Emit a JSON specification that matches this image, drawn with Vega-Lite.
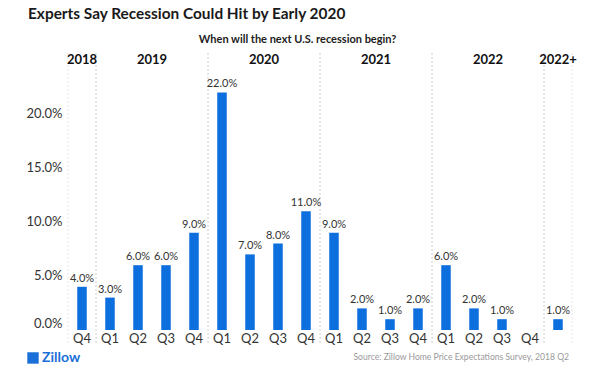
{
  "$schema": "https://vega.github.io/schema/vega-lite/v6.json",
  "width": 504,
  "height": 278,
  "autosize": {"type": "none"},
  "padding": {"left": 68, "top": 52, "right": 44, "bottom": 52},
  "title": {
    "text": "Experts Say Recession Could Hit by Early 2020",
    "anchor": "start",
    "frame": "group",
    "offset": 12,
    "dx": -40,
    "fontSize": 15.4,
    "fontWeight": "bold",
    "color": "#1a1a1a"
  },
  "datasets": {
    "survey": [
      {"period": "2018 Q4", "value": 0.04},
      {"period": "2019 Q1", "value": 0.03},
      {"period": "2019 Q2", "value": 0.06},
      {"period": "2019 Q3", "value": 0.06},
      {"period": "2019 Q4", "value": 0.09},
      {"period": "2020 Q1", "value": 0.22},
      {"period": "2020 Q2", "value": 0.07},
      {"period": "2020 Q3", "value": 0.08},
      {"period": "2020 Q4", "value": 0.11},
      {"period": "2021 Q1", "value": 0.09},
      {"period": "2021 Q2", "value": 0.02},
      {"period": "2021 Q3", "value": 0.01},
      {"period": "2021 Q4", "value": 0.02},
      {"period": "2022 Q1", "value": 0.06},
      {"period": "2022 Q2", "value": 0.02},
      {"period": "2022 Q3", "value": 0.01},
      {"period": "2022 Q4", "value": 0},
      {"period": "2022+", "value": 0.01}
    ],
    "fullYears": [
      {"label": "2019", "period": "2019 Q2"},
      {"label": "2020", "period": "2020 Q2"},
      {"label": "2021", "period": "2021 Q2"},
      {"label": "2022", "period": "2022 Q2"}
    ],
    "singleYears": [
      {"label": "2018", "period": "2018 Q4"},
      {"label": "2022+", "period": "2022+"}
    ],
    "breaks": [
      {"period": "2019 Q1"},
      {"period": "2020 Q1"},
      {"period": "2021 Q1"},
      {"period": "2022 Q1"},
      {"period": "2022+"}
    ]
  },
  "layer": [
    {
      "data": {"values": [{"period": "2018 Q4"}]},
      "mark": {"type": "rule", "color": "#e4e4e4", "strokeDash": [2, 2], "strokeWidth": 1},
      "encoding": {
        "x": {"field": "period", "type": "ordinal", "bandPosition": 0, "title": null},
        "y": {"datum": -0.012, "type": "quantitative"},
        "y2": {"datum": 0.2574}
      }
    },
    {
      "data": {"values": [{"period": "2022+"}]},
      "mark": {"type": "rule", "color": "#e4e4e4", "strokeDash": [2, 2], "strokeWidth": 1},
      "encoding": {
        "x": {"field": "period", "type": "ordinal", "bandPosition": 1, "title": null},
        "y": {"datum": -0.012, "type": "quantitative"},
        "y2": {"datum": 0.2574}
      }
    },
    {
      "data": {"name": "breaks"},
      "mark": {"type": "rule", "color": "#cccccc", "strokeDash": [2, 2], "strokeWidth": 1},
      "encoding": {
        "x": {"field": "period", "type": "ordinal", "bandPosition": 0, "title": null},
        "y": {"datum": -0.012, "type": "quantitative"},
        "y2": {"datum": 0.2574}
      }
    },
    {
      "data": {"name": "survey"},
      "mark": {"type": "bar", "color": "#0d6fde", "width": {"band": 0.34}},
      "encoding": {
        "x": {
          "field": "period",
          "type": "ordinal",
          "title": null,
          "scale": {
            "domain": ["2018 Q4", "2019 Q1", "2019 Q2", "2019 Q3", "2019 Q4", "2020 Q1", "2020 Q2", "2020 Q3", "2020 Q4", "2021 Q1", "2021 Q2", "2021 Q3", "2021 Q4", "2022 Q1", "2022 Q2", "2022 Q3", "2022 Q4", "2022+"],
            "paddingInner": 0,
            "paddingOuter": 0
          },
          "axis": {
            "title": null,
            "domain": false,
            "ticks": false,
            "grid": false,
            "bandPosition": 0.5,
            "labelAngle": 0,
            "labelAlign": "center",
            "labelBaseline": "middle",
            "labelPadding": 8,
            "labelFontSize": 13,
            "labelColor": "#333333",
            "labelExpr": "datum.label == '2022+' ? '' : split(datum.label, ' ')[1]"
          }
        },
        "y": {
          "field": "value",
          "type": "quantitative",
          "title": null,
          "scale": {"domain": [0, 0.2574], "nice": false, "zero": false},
          "axis": {
            "title": null,
            "values": [0, 0.05, 0.1, 0.15, 0.2],
            "format": ".1%",
            "domain": false,
            "ticks": false,
            "labelPadding": 6,
            "labelFontSize": 13,
            "labelColor": "#333333",
            "labelFlush": true,
            "gridColor": "#f1f1f1",
            "gridWidth": 1
          }
        }
      }
    },
    {
      "data": {"name": "survey"},
      "transform": [{"filter": "datum.value > 0"}],
      "mark": {"type": "text", "baseline": "bottom", "dy": -3, "fontSize": 11, "color": "#333333"},
      "encoding": {
        "x": {"field": "period", "type": "ordinal", "title": null},
        "y": {"field": "value", "type": "quantitative", "title": null},
        "text": {"field": "value", "type": "quantitative", "format": ".1%"}
      }
    },
    {
      "data": {"name": "fullYears"},
      "mark": {"type": "text", "fontSize": 13, "fontWeight": "bold", "color": "#111111", "baseline": "middle"},
      "encoding": {
        "x": {"field": "period", "type": "ordinal", "bandPosition": 1, "title": null},
        "y": {"datum": 0.25, "type": "quantitative"},
        "text": {"field": "label"}
      }
    },
    {
      "data": {"name": "singleYears"},
      "mark": {"type": "text", "fontSize": 13, "fontWeight": "bold", "color": "#111111", "baseline": "middle"},
      "encoding": {
        "x": {"field": "period", "type": "ordinal", "bandPosition": 0.5, "title": null},
        "y": {"datum": 0.25, "type": "quantitative"},
        "text": {"field": "label"}
      }
    },
    {
      "data": {"values": [{"note": "When will the next U.S. recession begin?"}]},
      "mark": {"type": "text", "fontSize": 11, "fontWeight": "bold", "color": "#222222", "baseline": "middle"},
      "encoding": {
        "x": {"datum": "2020 Q4", "type": "ordinal", "bandPosition": 0.2},
        "y": {"datum": 0.2685, "type": "quantitative"},
        "text": {"field": "note"}
      }
    },
    {
      "data": {"values": [{"note": "Source: Zillow Home Price Expectations Survey, 2018 Q2"}]},
      "mark": {"type": "text", "fontSize": 8.6, "color": "#9a9a9a", "align": "right", "baseline": "middle", "dx": -3},
      "encoding": {
        "x": {"datum": "2022+", "type": "ordinal", "bandPosition": 1},
        "y": {"datum": -0.025, "type": "quantitative"},
        "text": {"field": "note"}
      }
    },
    {
      "data": {"values": [{"brand": "Zillow"}]},
      "mark": {"type": "point", "shape": "square", "filled": true, "size": 130, "color": "#1a6fd8", "opacity": 1, "xOffset": -35},
      "encoding": {
        "x": {"datum": "2018 Q4", "type": "ordinal", "bandPosition": 0},
        "y": {"datum": -0.0259, "type": "quantitative"}
      }
    },
    {
      "data": {"values": [{"brand": "Zillow"}]},
      "mark": {"type": "text", "fontSize": 14, "fontWeight": "bold", "color": "#1a6fd8", "align": "left", "baseline": "middle", "dx": -26},
      "encoding": {
        "x": {"datum": "2018 Q4", "type": "ordinal", "bandPosition": 0},
        "y": {"datum": -0.0259, "type": "quantitative"},
        "text": {"field": "brand"}
      }
    }
  ],
  "config": {
    "view": {"stroke": null},
    "font": "Lato",
    "text": {"font": "Lato"}
  }
}
